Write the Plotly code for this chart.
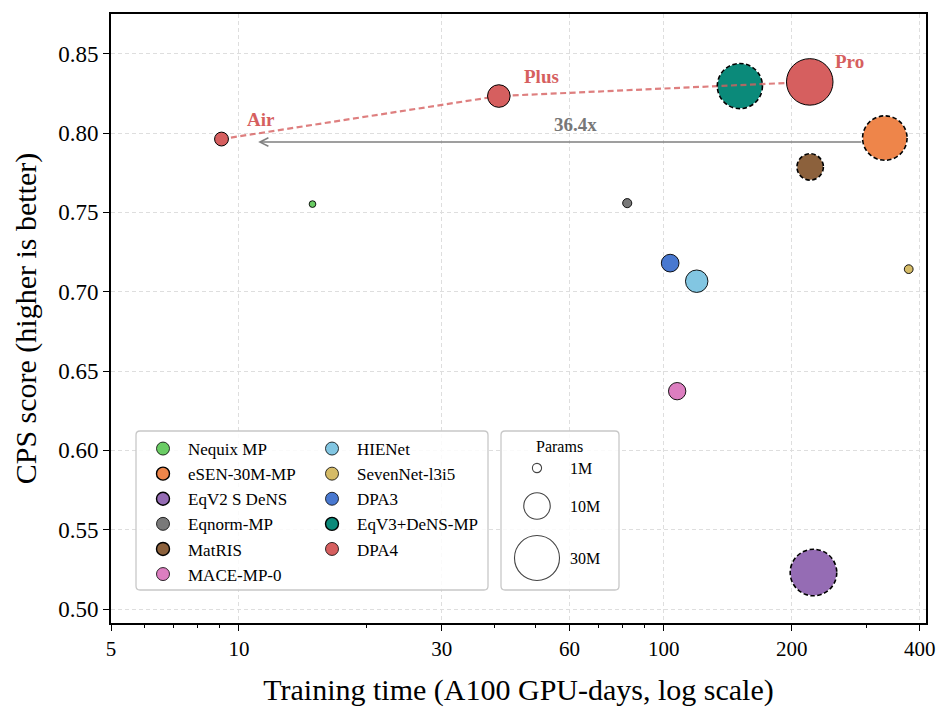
import numpy as np
import plotly.graph_objects as go

# ---------------- data ----------------
models = ["Nequix MP", "eSEN-30M-MP", "EqV2 S DeNS", "Eqnorm-MP", "MatRIS",
          "MACE-MP-0", "HIENet", "SevenNet-l3i5", "DPA3", "EqV3+DeNS-MP"]
train_days = [14.9, 331.2, 225.0, 82.0, 221.0, 107.5, 119.5, 377.0, 103.5, 151.0]
cps_score = [0.7552, 0.7968, 0.5230, 0.7558, 0.7786, 0.6373, 0.7066, 0.7142, 0.7180, 0.8296]
params_m = [0.7, 30.1, 33.0, 1.3, 10.4, 4.7, 7.9, 1.2, 4.9, 31.0]
dashed_edge = [False, True, True, False, True, False, False, False, False, True]
colors = ["#6acc64", "#ee854a", "#956cb4", "#797979", "#8c613c",
          "#dc7ec0", "#82c6e2", "#d5bb67", "#4878d0", "#0b8a7a"]

dpa4_name = "DPA4"
dpa4_variants = ["Air", "Plus", "Pro"]
dpa4_days = [9.1, 40.9, 220.5]
dpa4_cps = [0.7962, 0.8233, 0.8322]
dpa4_params = [3.0, 8.0, 33.8]
dpa4_color = "#d65f5f"

size_legend_params = [1, 10, 30]
size_legend_labels = ["1M", "10M", "30M"]

x_ticks = [5, 10, 30, 60, 100, 200, 400]
x_minor = [6, 7, 8, 9, 20, 40, 50, 70, 80, 90, 300]
x_range = [5, 414]
y_range = [0.4912, 0.875]

FONT = "Liberation Serif"

# ---------------- layout geometry ----------------
W, H = 951, 724
ML, MR, MT, MB = 111, 25, 14, 101
PW, PH = W - ML - MR, H - MT - MB
LX0, LX1 = np.log10(x_range[0]), np.log10(x_range[1])


def px_x(px):
    return (px - ML) / PW


def px_y(py):
    return (H - MB - py) / PH


def data_x_to_paper(v):
    return (np.log10(v) - LX0) / (LX1 - LX0)


def size_px(p):
    return 8.0 * np.sqrt(p)


fig = go.Figure()

# baseline models
for i, m in enumerate(models):
    fig.add_trace(go.Scatter(
        x=[train_days[i]], y=[cps_score[i]], mode="markers", name=m,
        showlegend=False, hoverinfo="name",
        marker=dict(size=size_px(params_m[i]), color=colors[i], opacity=1,
                    line=dict(color="black", width=0 if dashed_edge[i] else 0.9))))

# DPA4 connecting line and markers
fig.add_trace(go.Scatter(
    x=dpa4_days, y=dpa4_cps, mode="lines", showlegend=False, hoverinfo="skip",
    line=dict(color="rgba(214,95,95,0.8)", width=2.2, dash="6px,3.5px")))
fig.add_trace(go.Scatter(
    x=dpa4_days, y=dpa4_cps, mode="markers", name=dpa4_name, showlegend=False,
    text=dpa4_variants,
    marker=dict(size=[size_px(p) for p in dpa4_params], color=dpa4_color, opacity=1,
                line=dict(color="black", width=1))))

# dashed edges as pixel-sized circle shapes anchored on data points
shapes = []
for i in range(len(models)):
    if dashed_edge[i]:
        r = size_px(params_m[i]) / 2 + 0.3
        shapes.append(dict(type="circle", xref="paper", yref="y",
                           xsizemode="pixel", ysizemode="pixel",
                           xanchor=data_x_to_paper(train_days[i]), yanchor=cps_score[i],
                           x0=-r, x1=r, y0=-r, y1=r,
                           line=dict(color="black", width=1.6, dash="4.5px,2.5px"),
                           layer="above"))

# legend entries (legend-only dummy traces, two columns)
leg_names = models + [dpa4_name]
leg_colors = colors + [dpa4_color]
leg_dashed = dashed_edge + [False]
for i, m in enumerate(leg_names):
    fig.add_trace(go.Scatter(
        x=[None], y=[None], mode="markers", name=m,
        legend="legend" if i < 6 else "legend2",
        marker=dict(size=13, color=leg_colors[i],
                    line=dict(color="black", width=1.4 if leg_dashed[i] else 0.8))))


def rounded_rect(x0, y0, x1, y1, r=4):
    rx, ry = r / PW, r / PH
    X0, X1 = px_x(x0), px_x(x1)
    Y0, Y1 = px_y(y1), px_y(y0)
    return (f"M{X0+rx},{Y0} L{X1-rx},{Y0} Q{X1},{Y0} {X1},{Y0+ry} "
            f"L{X1},{Y1-ry} Q{X1},{Y1} {X1-rx},{Y1} L{X0+rx},{Y1} "
            f"Q{X0},{Y1} {X0},{Y1-ry} L{X0},{Y0+ry} Q{X0},{Y0} {X0+rx},{Y0} Z")


box_style = dict(type="path", xref="paper", yref="paper", layer="above",
                 fillcolor="rgba(255,255,255,0.85)",
                 line=dict(color="#c8c8c8", width=1.3))
shapes.append(dict(path=rounded_rect(136, 431, 488, 590), **box_style))
shapes.append(dict(path=rounded_rect(501, 431, 619, 590), **box_style))

annotations = []
# size legend
size_rows_py = [468, 506, 558]
annotations.append(dict(x=px_x(559), y=px_y(446), xref="paper", yref="paper",
                        xanchor="center", yanchor="middle",
                        text="Params", showarrow=False,
                        font=dict(family=FONT, size=16, color="black")))
for p, lab, py in zip(size_legend_params, size_legend_labels, size_rows_py):
    r = size_px(p) / 2 + 0.6
    shapes.append(dict(type="circle", xref="paper", yref="paper",
                       xsizemode="pixel", ysizemode="pixel",
                       xanchor=px_x(537), yanchor=px_y(py),
                       x0=-r, x1=r, y0=-r, y1=r, layer="above",
                       fillcolor="rgba(255,255,255,0)",
                       line=dict(color="#444444", width=1.1)))
    annotations.append(dict(x=px_x(568), y=px_y(py), xref="paper", yref="paper",
                            xanchor="left", yanchor="middle", text=lab, showarrow=False,
                            font=dict(family=FONT, size=16, color="black")))

# DPA4 variant labels
for v, xd, yd in zip(dpa4_variants, dpa4_days, dpa4_cps):
    annotations.append(dict(x=np.log10(xd), y=yd, xref="x", yref="y",
                            text=f"<b>{v}</b>", showarrow=False,
                            xanchor="left", yanchor="middle", xshift=23, yshift=20,
                            font=dict(family=FONT, size=19, color=dpa4_color)))

# speed-up arrow eSEN -> DPA4 Air
esen_i = models.index("eSEN-30M-MP")
speedup = train_days[esen_i] / dpa4_days[0]
arrow_y = 0.7943
annotations.append(dict(x=np.log10(11.1), y=arrow_y, xref="x", yref="y",
                        ax=np.log10(train_days[esen_i]), ay=arrow_y,
                        axref="x", ayref="y", text="", showarrow=True,
                        arrowhead=5, arrowsize=1.1, arrowwidth=1.5,
                        arrowcolor="#808080",
                        startstandoff=size_px(params_m[esen_i]) / 2))
annotations.append(dict(x=np.log10(62), y=arrow_y, xref="x", yref="y",
                        text=f"<b>{speedup:.1f}x</b>", showarrow=False,
                        yshift=5, yanchor="bottom", xanchor="center",
                        font=dict(family=FONT, size=19, color="#777777")))

grid = dict(showgrid=True, gridcolor="#dedede", gridwidth=0.8, griddash="4px,3px")

fig.update_layout(
    width=W, height=H,
    margin=dict(l=ML, r=MR, t=MT, b=MB),
    paper_bgcolor="white", plot_bgcolor="white",
    font=dict(family=FONT, color="black"),
    shapes=shapes, annotations=annotations,
    xaxis=dict(type="log", range=[LX0, LX1],
               tickmode="array", tickvals=x_ticks, ticktext=[str(t) for t in x_ticks],
               ticks="outside", ticklen=6, tickwidth=1.2, tickcolor="black",
               minor=dict(tickmode="array", tickvals=x_minor, ticks="outside",
                          ticklen=3.5, tickwidth=1, tickcolor="black", showgrid=False),
               showline=True, linecolor="black", linewidth=1.6, mirror=True,
               tickfont=dict(family=FONT, size=21, color="black"),
               title=dict(text="Training time (A100 GPU-days, log scale)",
                          font=dict(family=FONT, size=30, color="black"), standoff=19),
               zeroline=False, **grid),
    yaxis=dict(range=y_range, tickmode="linear", tick0=0.5, dtick=0.05,
               tickformat=".2f",
               ticks="outside", ticklen=6, tickwidth=1.2, tickcolor="black",
               showline=True, linecolor="black", linewidth=1.6, mirror=True,
               tickfont=dict(family=FONT, size=23, color="black"),
               title=dict(text="CPS score (higher is better)",
                          font=dict(family=FONT, size=30, color="black"), standoff=13),
               zeroline=False, **grid),
    legend=dict(x=px_x(138), y=px_y(431), xanchor="left", yanchor="top",
                bgcolor="rgba(0,0,0,0)", borderwidth=0, itemwidth=40,
                itemsizing="trace", tracegroupgap=0,
                font=dict(family=FONT, size=17, color="black")),
    legend2=dict(x=px_x(307), y=px_y(431), xanchor="left", yanchor="top",
                 bgcolor="rgba(0,0,0,0)", borderwidth=0, itemwidth=40,
                 itemsizing="trace", tracegroupgap=0,
                 font=dict(family=FONT, size=17, color="black")),
)

fig.write_html("out.html")
